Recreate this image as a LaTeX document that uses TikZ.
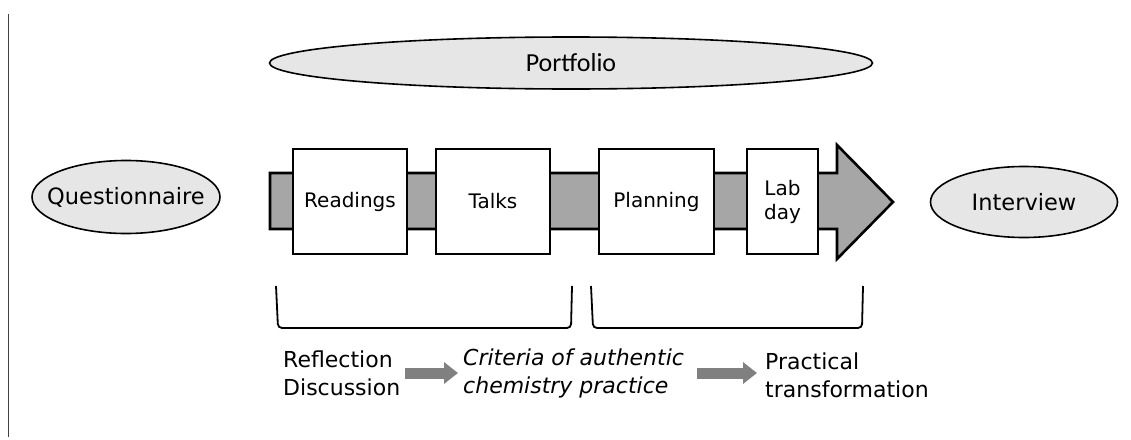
\documentclass[tikz,border=0pt]{standalone}
\usepackage{fontspec}
\setmainfont{DejaVu Sans}
\newfontfamily\calib{Carlito}
\usetikzlibrary{shapes.geometric,arrows.meta}
\definecolor{ellfill}{HTML}{E6E6E6}
\definecolor{bandfill}{HTML}{A6A6A6}
\definecolor{arrgray}{HTML}{808080}
\begin{document}
\begin{tikzpicture}[x=1pt,y=-1pt,
  oval/.style={ellipse, draw=black, line width=1.6pt, fill=ellfill, inner xsep=-20pt, inner ysep=0pt},
  stagebox/.style={draw=black, line width=2.6pt, fill=white, inner sep=0pt,
    font=\fontsize{20}{24}\selectfont, align=center, minimum height=105pt},
  brk/.style={draw=black, line width=1.8pt, rounded corners=4pt},
  lbl/.style={inner sep=0pt, align=left, anchor=west, font=\fontsize{22}{28}\selectfont},
  flow/.style={draw=arrgray, line width=11pt, -{Triangle[length=14pt,width=21pt]}}
]
\useasboundingbox (0,0) rectangle (1131,439);
\draw[line width=1pt, black!75] (8,14) -- (8,437);

\node[oval, minimum width=603pt, minimum height=52pt, font=\calib\fontsize{26}{30}\selectfont] (portfolio) at (571,63) {Portfolio};
\node[oval, minimum width=188pt, minimum height=73pt, font=\fontsize{22.5}{27}\selectfont] (quest) at (126,197) {Questionnaire};
\node[oval, minimum width=187pt, minimum height=71pt, font=\fontsize{22.5}{27}\selectfont] (interview) at (1024,202) {Interview};

\draw[line width=2.6pt, fill=bandfill, line join=miter]
  (270,173) -- (837,173) -- (837,145) -- (893,202) -- (837,259) -- (837,229) -- (270,229) -- cycle;

\node[stagebox, minimum width=114pt] (readings) at (350,201.5) {Readings};
\node[stagebox, minimum width=114pt] (talks) at (493,201.5) {Talks};
\node[stagebox, minimum width=115pt] (planning) at (656.5,201.5) {Planning};
\node[stagebox, minimum width=71pt] (lab) at (782.5,201.5) {Lab\\day};

\draw[brk] (276,286) -- (278,328) -- (571,328) -- (572,286);
\draw[brk] (591,286) -- (593,328) -- (862,328) -- (863,286);

\node[lbl] (refl) at (283,373) {Reflection\\Discussion};
\node[lbl, font=\itshape\fontsize{22}{28}\selectfont] (crit) at (463,373) {Criteria of authentic\\chemistry practice};
\node[lbl] (prac) at (765,375) {Practical\\transformation};

\draw[flow] ([xshift=5pt]refl.east) -- ([xshift=-5pt]refl.east -| crit.west);
\draw[flow] ([xshift=13pt]crit.east) -- ([xshift=-8pt]crit.east -| prac.west);
\end{tikzpicture}
\end{document}
